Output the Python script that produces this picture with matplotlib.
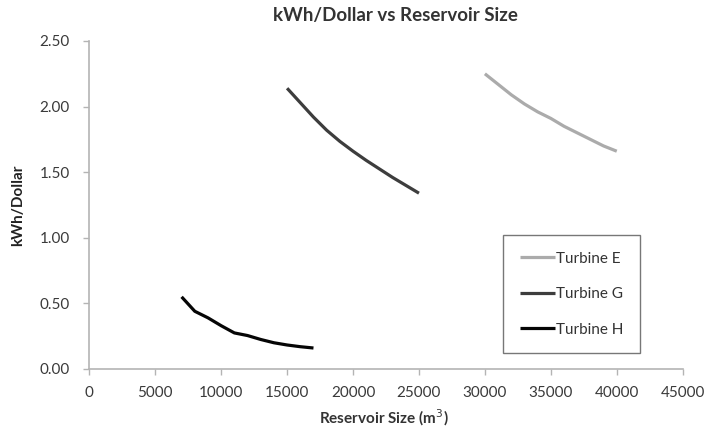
import matplotlib
matplotlib.use("Agg")
import matplotlib.pyplot as plt

# Reservoir size (m^3) and kWh per dollar for each turbine
size_e = [30000, 31000, 32000, 33000, 34000, 35000, 36000, 37000, 38000, 39000, 40000]
kwh_e = [2.25, 2.17, 2.09, 2.02, 1.96, 1.91, 1.85, 1.80, 1.75, 1.70, 1.66]

size_g = [15000, 16000, 17000, 18000, 19000, 20000, 21000, 22000, 23000, 24000, 25000]
kwh_g = [2.14, 2.03, 1.92, 1.82, 1.735, 1.66, 1.59, 1.525, 1.46, 1.40, 1.34]

size_h = [7000, 8000, 9000, 10000, 11000, 12000, 13000, 14000, 15000, 16000, 17000]
kwh_h = [0.55, 0.44, 0.39, 0.33, 0.275, 0.255, 0.225, 0.20, 0.183, 0.170, 0.16]

x_ticks = [0, 5000, 10000, 15000, 20000, 25000, 30000, 35000, 40000, 45000]
y_ticks = [0.0, 0.5, 1.0, 1.5, 2.0, 2.5]

plt.rcParams["font.family"] = ["Lato", "DejaVu Sans"]

fig = plt.figure(figsize=(7.08, 4.29), dpi=100)
ax = fig.add_axes([89.3 / 708, 1 - 369 / 429, (682.7 - 89.3) / 708, (369 - 41) / 429])

ax.plot(size_e, kwh_e, color="#ababab", lw=2.3, label="Turbine E", solid_capstyle="butt")
ax.plot(size_g, kwh_g, color="#3d3d3d", lw=2.3, label="Turbine G", solid_capstyle="butt")
ax.plot(size_h, kwh_h, color="#050505", lw=2.3, label="Turbine H", solid_capstyle="butt")

ax.set_xlim(0, 45000)
ax.set_ylim(0, 2.5)
ax.set_xticks(x_ticks)
ax.set_xticklabels([str(t) for t in x_ticks])
ax.set_yticks(y_ticks)
ax.set_yticklabels([f"{t:.2f}" for t in y_ticks])

for side in ("top", "right"):
    ax.spines[side].set_visible(False)
for side in ("left", "bottom"):
    ax.spines[side].set_color("#b4b4b4")
    ax.spines[side].set_linewidth(1.2)

ax.tick_params(axis="both", colors="#b4b4b4", labelcolor="#3a3a3a", labelsize=11,
               length=4, width=1.0)
ax.tick_params(axis="y", pad=10)
ax.tick_params(axis="x", pad=8)

fig.text(395 / 708, 1 - 15 / 429, "kWh/Dollar vs Reservoir Size", ha="center", va="center",
         fontsize=13.5, fontweight="bold", color="#333333")
fig.text(384 / 708, 1 - 418 / 429, "Reservoir Size (m$^{3}$)", ha="center", va="center",
         fontsize=11, fontweight="bold", color="#333333")
fig.text(18 / 708, 1 - 205 / 429, "kWh/Dollar", ha="center", va="center", rotation=90,
         fontsize=11, fontweight="bold", color="#222222")

leg = ax.legend(loc="upper left", bbox_to_anchor=((503 - 89.3) / 593.4, (369 - 235) / 328),
                frameon=True, fancybox=False, fontsize=11, handlelength=2.3,
                handletextpad=0.05, labelspacing=1.4, borderpad=1.1, borderaxespad=0)
leg.get_frame().set_edgecolor("#555555")
leg.get_frame().set_linewidth(1.0)
for t in leg.get_texts():
    t.set_color("#333333")

fig.savefig("out.png", dpi=100)
